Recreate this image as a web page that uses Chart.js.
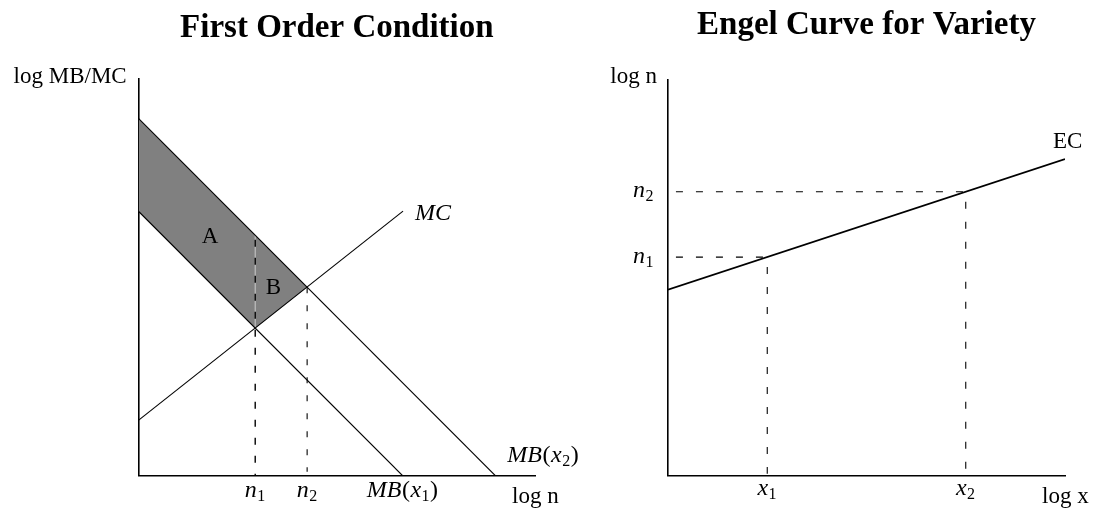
<!DOCTYPE html>
<html>
<head>
<meta charset="utf-8">
<script src="https://cdn.jsdelivr.net/npm/chart.js@4.4.0/dist/chart.umd.min.js"></script>
<style>
  body { margin: 0; background: #fff; }
  #wrap { position: relative; width: 1095px; height: 513px; }
  canvas { position: absolute; top: 0; }
</style>
</head>
<body>
<div id="wrap">
  <canvas id="foc" width="600" height="513" style="left:0"></canvas>
  <canvas id="engel" width="495" height="513" style="left:600px"></canvas>
</div>
<script>
// ---- left panel: First Order Condition ----
const mb1X = [0, 6.66], mb1Y = [6.66, 0];
const mb2X = [0, 9], mb2Y = [9, 0];
const mcX = [0, 6.67], mcY = [1.4, 6.67];
const shadeX = [0, 4.25, 2.94, 0, 0];
const shadeY = [9, 4.75, 3.72, 6.66, 9];
const nTicks = [2.94, 4.25];
const nDropTop = [5.95, 4.75];
const nTickLabels = ['1', '2'];
const areaLabels = ['A', 'B'];
const areaX = [1.8, 3.4], areaY = [6.03, 4.75];

// ---- right panel: Engel Curve for Variety ----
const ecX = [0, 10], ecY = [4.7, 8.0];
const xTicks = [2.5, 7.5];
const nLevels = [5.525, 7.175];
const xTickLabels = ['1', '2'];

const SERIF = '"Liberation Serif", "Times New Roman", serif';

function seg(xs, ys, opts) {
  return Object.assign({
    data: xs.map((x, i) => ({ x: x, y: ys[i] })),
    borderColor: '#000',
    borderWidth: 1.1,
    pointRadius: 0,
    fill: false,
    tension: 0
  }, opts || {});
}

// text made of italic / roman / subscript pieces, like LaTeX math
function rich(ctx, parts, x, y, align) {
  const fontOf = k => k === 's' ? '16px ' + SERIF : (k === 'i' ? 'italic 24px ' : '24px ') + SERIF;
  let w = 0;
  parts.forEach(p => { ctx.font = fontOf(p[1]); w += ctx.measureText(p[0]).width + 0.5; });
  let cx = align === 'center' ? x - w / 2 : align === 'right' ? x - w : x;
  ctx.textAlign = 'left';
  ctx.textBaseline = 'alphabetic';
  parts.forEach(p => {
    ctx.font = fontOf(p[1]);
    ctx.fillText(p[0], cx, p[1] === 's' ? y + 4 : y);
    cx += ctx.measureText(p[0]).width + 0.5;
  });
}

function plain(ctx, txt, x, y, align, font) {
  ctx.font = font || ('23px ' + SERIF);
  ctx.textAlign = align;
  ctx.textBaseline = 'alphabetic';
  ctx.fillText(txt, x, y);
}

function axes() {
  const ax = {
    type: 'linear', min: 0, max: 10,
    grid: { display: false, drawTicks: false },
    ticks: { display: false },
    border: { display: true, color: '#000', width: 1.6 }
  };
  return { x: Object.assign({}, ax), y: Object.assign({}, ax) };
}

const baseOpts = {
  responsive: false,
  animation: false,
  plugins: { legend: { display: false }, tooltip: { enabled: false } }
};

// left chart
const focLabels = {
  id: 'focLabels',
  afterDraw(chart) {
    const ctx = chart.ctx, a = chart.chartArea;
    const sx = chart.scales.x, sy = chart.scales.y;
    ctx.save();
    ctx.fillStyle = '#000';
    plain(ctx, 'First Order Condition', (a.left + a.right) / 2, 36.5, 'center', 'bold 33px ' + SERIF);
    plain(ctx, 'log MB/MC', a.left - 12, 83.3, 'right');
    plain(ctx, 'log n', a.right - 23, a.bottom + 27.5, 'left');
    areaLabels.forEach((t, i) => {
      plain(ctx, t, sx.getPixelForValue(areaX[i]), sy.getPixelForValue(areaY[i]) + 7, 'center');
    });
    nTicks.forEach((v, i) => {
      rich(ctx, [['n', 'i'], [nTickLabels[i], 's']], sx.getPixelForValue(v), a.bottom + 21, 'center');
    });
    rich(ctx, [['MC', 'i']], sx.getPixelForValue(mcX[1]) + 12, sy.getPixelForValue(mcY[1]) + 9, 'left');
    rich(ctx, [['MB', 'i'], ['(', 'r'], ['x', 'i'], ['2', 's'], [')', 'r']],
      sx.getPixelForValue(mb2X[1]) + 12, a.bottom - 14, 'left');
    rich(ctx, [['MB', 'i'], ['(', 'r'], ['x', 'i'], ['1', 's'], [')', 'r']],
      sx.getPixelForValue(mb1X[1]), a.bottom + 21.5, 'center');
    ctx.restore();
  }
};

new Chart(document.getElementById('foc'), {
  type: 'line',
  data: {
    datasets: [
      seg(mb2X, mb2Y),
      seg(mb1X, mb1Y),
      seg(mcX, mcY),
      seg([nTicks[0], nTicks[0]], [nDropTop[0], 0], { borderDash: [7, 11], borderWidth: 1.4 }),
      seg([nTicks[1], nTicks[1]], [nDropTop[1], 0.1], { borderDash: [6, 12] }),
      seg([nTicks[0], nTicks[0]], [9 - nTicks[0], shadeY[2]], { borderColor: '#c4c4c4' }),
      seg(shadeX, shadeY, { fill: 'shape', backgroundColor: '#808080', borderColor: 'rgba(0,0,0,0)', order: 10 })
    ]
  },
  options: Object.assign({}, baseOpts, {
    layout: { padding: { left: 138.7, right: 65, top: 79, bottom: 37.3 } },
    scales: axes()
  }),
  plugins: [focLabels]
});

// right chart
const ecAt = x => ecY[0] + (ecY[1] - ecY[0]) * (x - ecX[0]) / (ecX[1] - ecX[0]);

const engelLabels = {
  id: 'engelLabels',
  afterDraw(chart) {
    const ctx = chart.ctx, a = chart.chartArea;
    const sx = chart.scales.x, sy = chart.scales.y;
    ctx.save();
    ctx.fillStyle = '#000';
    plain(ctx, 'Engel Curve for Variety', (a.left + a.right) / 2, 33.5, 'center', 'bold 33px ' + SERIF);
    plain(ctx, 'log n', a.left - 11, 83, 'right');
    plain(ctx, 'log x', a.right - 23, a.bottom + 27.5, 'left');
    plain(ctx, 'EC', sx.getPixelForValue(ecX[1]) - 12, sy.getPixelForValue(ecY[1]) - 11, 'left');
    nLevels.forEach((v, i) => {
      rich(ctx, [['n', 'i'], [xTickLabels[i], 's']], a.left - 14, sy.getPixelForValue(v) + 5.5, 'right');
    });
    xTicks.forEach((v, i) => {
      rich(ctx, [['x', 'i'], [xTickLabels[i], 's']], sx.getPixelForValue(v), a.bottom + 19.5, 'center');
    });
    ctx.restore();
  }
};

const engelSets = [seg(ecX, ecY, { borderWidth: 1.8 })];
xTicks.forEach((v, i) => {
  engelSets.push(seg([0.2, v], [nLevels[i], nLevels[i]], { borderDash: [7, 13] }));
  engelSets.push(seg([v, v], [ecAt(v) - 0.25, 0.05], { borderDash: [7, 13] }));
});

new Chart(document.getElementById('engel'), {
  type: 'line',
  data: { datasets: engelSets },
  options: Object.assign({}, baseOpts, {
    layout: { padding: { left: 68, right: 30, top: 80, bottom: 37.3 } },
    scales: axes()
  }),
  plugins: [engelLabels]
});
</script>
</body>
</html>
